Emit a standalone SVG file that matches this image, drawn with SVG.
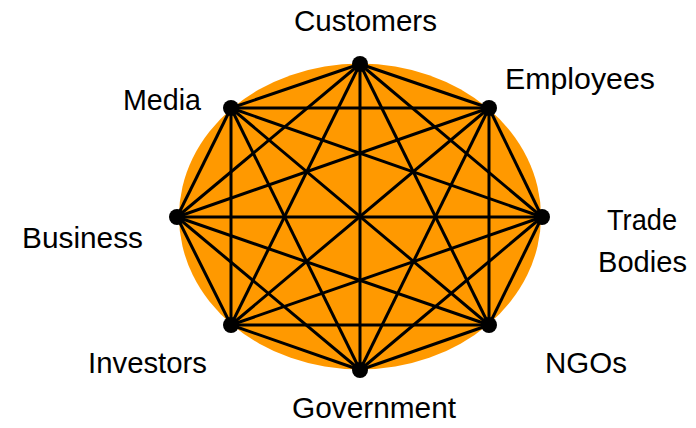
<svg xmlns="http://www.w3.org/2000/svg" width="696" height="428" viewBox="0 0 696 428">
<style>
.lbl{font-family:"Liberation Sans",Arial,sans-serif;font-size:30px;fill:#000}
.edge{stroke:#000;stroke-width:3;fill:none}
.dot{fill:#000}
</style>
<rect width="696" height="428" fill="#fff"/>
<ellipse cx="360" cy="216.5" rx="181" ry="153" fill="#FF9900"/>
<g id="connectors">
<line class="edge" x1="360" y1="64" x2="489" y2="108"/>
<line class="edge" x1="360" y1="64" x2="542" y2="217"/>
<line class="edge" x1="360" y1="64" x2="489" y2="325"/>
<line class="edge" x1="360" y1="64" x2="360" y2="370"/>
<line class="edge" x1="360" y1="64" x2="231" y2="325"/>
<line class="edge" x1="360" y1="64" x2="177" y2="217"/>
<line class="edge" x1="360" y1="64" x2="231" y2="108"/>
<line class="edge" x1="489" y1="108" x2="542" y2="217"/>
<line class="edge" x1="489" y1="108" x2="489" y2="325"/>
<line class="edge" x1="489" y1="108" x2="360" y2="370"/>
<line class="edge" x1="489" y1="108" x2="231" y2="325"/>
<line class="edge" x1="489" y1="108" x2="177" y2="217"/>
<line class="edge" x1="489" y1="108" x2="231" y2="108"/>
<line class="edge" x1="542" y1="217" x2="489" y2="325"/>
<line class="edge" x1="542" y1="217" x2="360" y2="370"/>
<line class="edge" x1="542" y1="217" x2="231" y2="325"/>
<line class="edge" x1="542" y1="217" x2="177" y2="217"/>
<line class="edge" x1="542" y1="217" x2="231" y2="108"/>
<line class="edge" x1="489" y1="325" x2="360" y2="370"/>
<line class="edge" x1="489" y1="325" x2="231" y2="325"/>
<line class="edge" x1="489" y1="325" x2="177" y2="217"/>
<line class="edge" x1="489" y1="325" x2="231" y2="108"/>
<line class="edge" x1="360" y1="370" x2="231" y2="325"/>
<line class="edge" x1="360" y1="370" x2="177" y2="217"/>
<line class="edge" x1="360" y1="370" x2="231" y2="108"/>
<line class="edge" x1="231" y1="325" x2="177" y2="217"/>
<line class="edge" x1="231" y1="325" x2="231" y2="108"/>
<line class="edge" x1="177" y1="217" x2="231" y2="108"/>
</g>
<g id="customers"><circle class="dot" cx="360" cy="64" r="8"/><text class="lbl" x="294" y="31" textLength="143" lengthAdjust="spacingAndGlyphs">Customers</text></g>
<g id="employees"><circle class="dot" cx="489" cy="108" r="8"/><text class="lbl" x="505" y="89" textLength="150" lengthAdjust="spacingAndGlyphs">Employees</text></g>
<g id="trade-bodies"><circle class="dot" cx="542" cy="217" r="8"/><text class="lbl" x="607" y="230" textLength="70" lengthAdjust="spacingAndGlyphs">Trade</text><text class="lbl" x="598" y="272" textLength="89" lengthAdjust="spacingAndGlyphs">Bodies</text></g>
<g id="ngos"><circle class="dot" cx="489" cy="325" r="8"/><text class="lbl" x="545" y="373" textLength="82" lengthAdjust="spacingAndGlyphs">NGOs</text></g>
<g id="government"><circle class="dot" cx="360" cy="370" r="8"/><text class="lbl" x="292" y="418" textLength="164" lengthAdjust="spacingAndGlyphs">Government</text></g>
<g id="investors"><circle class="dot" cx="231" cy="325" r="8"/><text class="lbl" x="88" y="373" textLength="119" lengthAdjust="spacingAndGlyphs">Investors</text></g>
<g id="business"><circle class="dot" cx="177" cy="217" r="8"/><text class="lbl" x="22" y="248" textLength="121" lengthAdjust="spacingAndGlyphs">Business</text></g>
<g id="media"><circle class="dot" cx="231" cy="108" r="8"/><text class="lbl" x="123" y="110" textLength="78" lengthAdjust="spacingAndGlyphs">Media</text></g>
</svg>
